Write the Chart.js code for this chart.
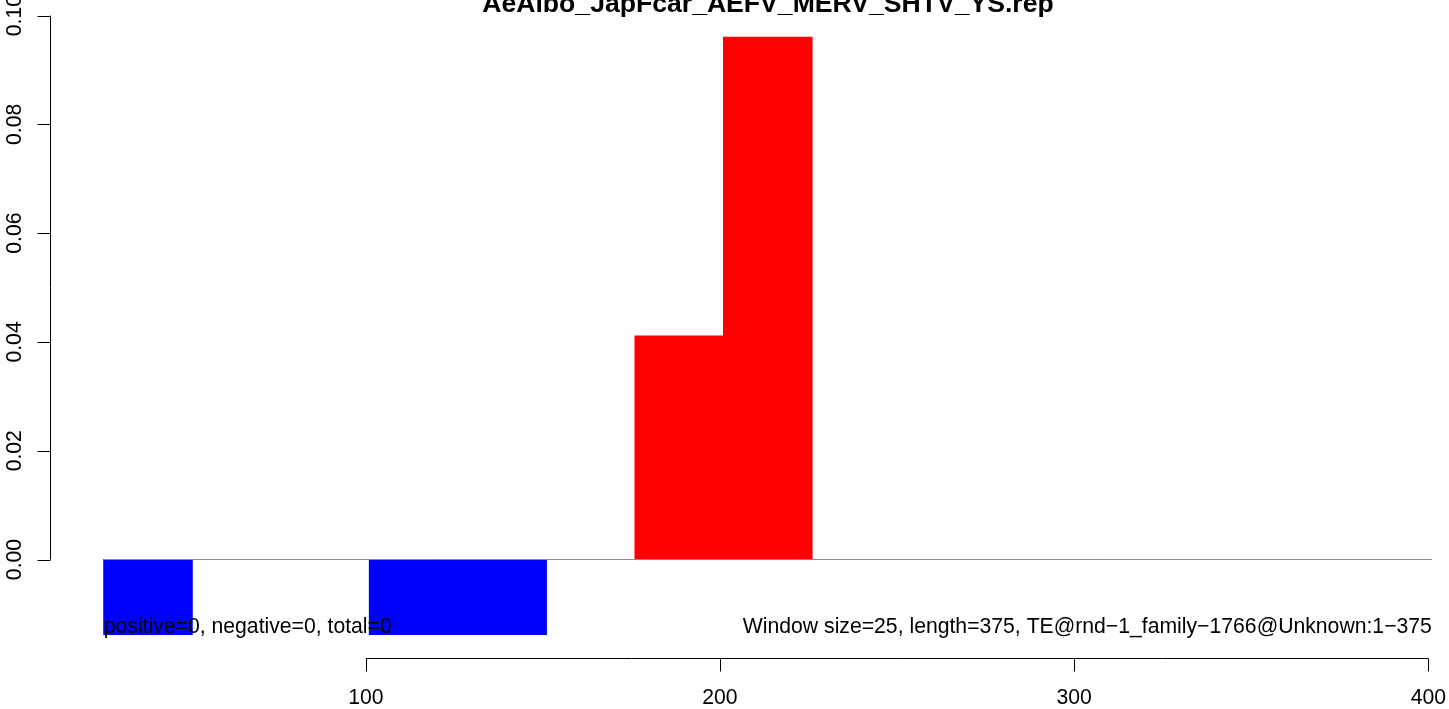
<!DOCTYPE html>
<html>
<head>
<meta charset="utf-8">
<title>AeAlbo_JapFcar_AEFV_MERV_SHTV_YS.rep</title>
<script src="https://cdn.jsdelivr.net/npm/chart.js@4/dist/chart.umd.min.js"></script>
<style>
  html, body { margin: 0; padding: 0; background: #fff; }
  #wrap { width: 1449px; height: 709px; position: relative; }
</style>
</head>
<body>
<div id="wrap"><canvas id="chart"></canvas></div>
<script>
// window start positions (window size 25, sequence length 375)
const windowSize = 25;
const winStart = [1, 26, 51, 76, 101, 126, 151, 176, 201, 226, 251, 276, 301, 326, 351];
const score = [0, -0.0138, 0, 0, -0.0138, -0.0138, 0, 0.0411, 0.0960, 0, 0, 0, 0, 0, 0];

const xTicks = [100, 200, 300, 400];
const yTicks = [0, 0.02, 0.04, 0.06, 0.08, 0.10];
const yTickLabels = ["0.00", "0.02", "0.04", "0.06", "0.08", "0.10"];

const zeroLineX = [26, 401];

const title = "AeAlbo_JapFcar_AEFV_MERV_SHTV_YS.rep";
const leftNote = "positive=0, negative=0, total=0";
const rightNote = "Window size=25, length=375, TE@rnd\u22121_family\u22121766@Unknown:1\u2212375";

const FONT = '"Liberation Sans", Arial, Helvetica, sans-serif';

const barData = winStart.map((s, i) => ({ x: s + windowSize / 2, y: score[i] }));
const barColors = score.map(v => (v < 0 ? "#0000ff" : "#ff0000"));
// empty windows get no inflation so they stay invisible
const barInflate = score.map(v => (v === 0 ? 0 : 0.5));
const zeroLine = zeroLineX.map(x => ({ x: x, y: 0 }));

// R-style axes, title and notes drawn from the chart's scales
const rAxes = {
  id: "rAxes",
  afterDraw(chart) {
    const ctx = chart.ctx;
    const xs = chart.scales.x;
    const ys = chart.scales.y;
    ctx.save();
    ctx.strokeStyle = "#000";
    ctx.fillStyle = "#000";
    ctx.lineWidth = 1;

    // y axis
    const ax = 50.5;
    const yTop = ys.getPixelForValue(yTicks[yTicks.length - 1]);
    const yBot = ys.getPixelForValue(yTicks[0]);
    ctx.beginPath();
    ctx.moveTo(ax, yTop);
    ctx.lineTo(ax, yBot);
    yTicks.forEach(v => {
      const py = Math.round(ys.getPixelForValue(v)) + 0.5;
      ctx.moveTo(ax, py);
      ctx.lineTo(ax - 13, py);
    });
    ctx.stroke();
    ctx.font = "21.2px " + FONT;
    ctx.textAlign = "center";
    ctx.textBaseline = "alphabetic";
    yTicks.forEach((v, i) => {
      const py = ys.getPixelForValue(v);
      ctx.save();
      ctx.translate(21, py);
      ctx.rotate(-Math.PI / 2);
      ctx.fillText(yTickLabels[i], 0, 0);
      ctx.restore();
    });

    // x axis
    const ay = 658.5;
    ctx.beginPath();
    ctx.moveTo(xs.getPixelForValue(xTicks[0]), ay);
    ctx.lineTo(xs.getPixelForValue(xTicks[xTicks.length - 1]), ay);
    xTicks.forEach(v => {
      const px = Math.round(xs.getPixelForValue(v)) + 0.5;
      ctx.moveTo(px, ay);
      ctx.lineTo(px, ay + 13);
    });
    ctx.stroke();
    xTicks.forEach(v => {
      ctx.fillText(String(v), xs.getPixelForValue(v), 704);
    });

    // notes under the bars
    ctx.textAlign = "left";
    ctx.fillText(leftNote, xs.getPixelForValue(zeroLineX[0]), 633);
    ctx.textAlign = "right";
    ctx.fillText(rightNote, xs.getPixelForValue(zeroLineX[1]), 633);

    // title (clipped at the top, as in the original)
    ctx.font = "bold 26.6px " + FONT;
    ctx.textAlign = "center";
    ctx.fillText(title, 768, 12);
    ctx.restore();
  }
};

new Chart(document.getElementById("chart"), {
  type: "bar",
  data: {
    datasets: [
      {
        type: "line",
        data: zeroLine,
        borderColor: "#8c8c8c",
        borderWidth: 1,
        pointRadius: 0,
        fill: false,
        order: 0
      },
      {
        data: barData,
        backgroundColor: barColors,
        borderWidth: 0,
        inflateAmount: barInflate,
        barPercentage: 1,
        categoryPercentage: 1,
        order: 1
      }
    ]
  },
  options: {
    responsive: true,
    maintainAspectRatio: false,
    animation: false,
    layout: { padding: { left: 50, right: 17, top: 15, bottom: 51 } },
    plugins: {
      legend: { display: false },
      tooltip: { enabled: false },
      title: { display: false }
    },
    scales: {
      x: {
        type: "linear",
        min: 10.83,
        max: 401.04,
        offset: false,
        display: false
      },
      y: {
        type: "linear",
        min: -0.0181,
        max: 0.1001,
        display: false
      }
    }
  },
  plugins: [rAxes]
});
</script>
</body>
</html>
